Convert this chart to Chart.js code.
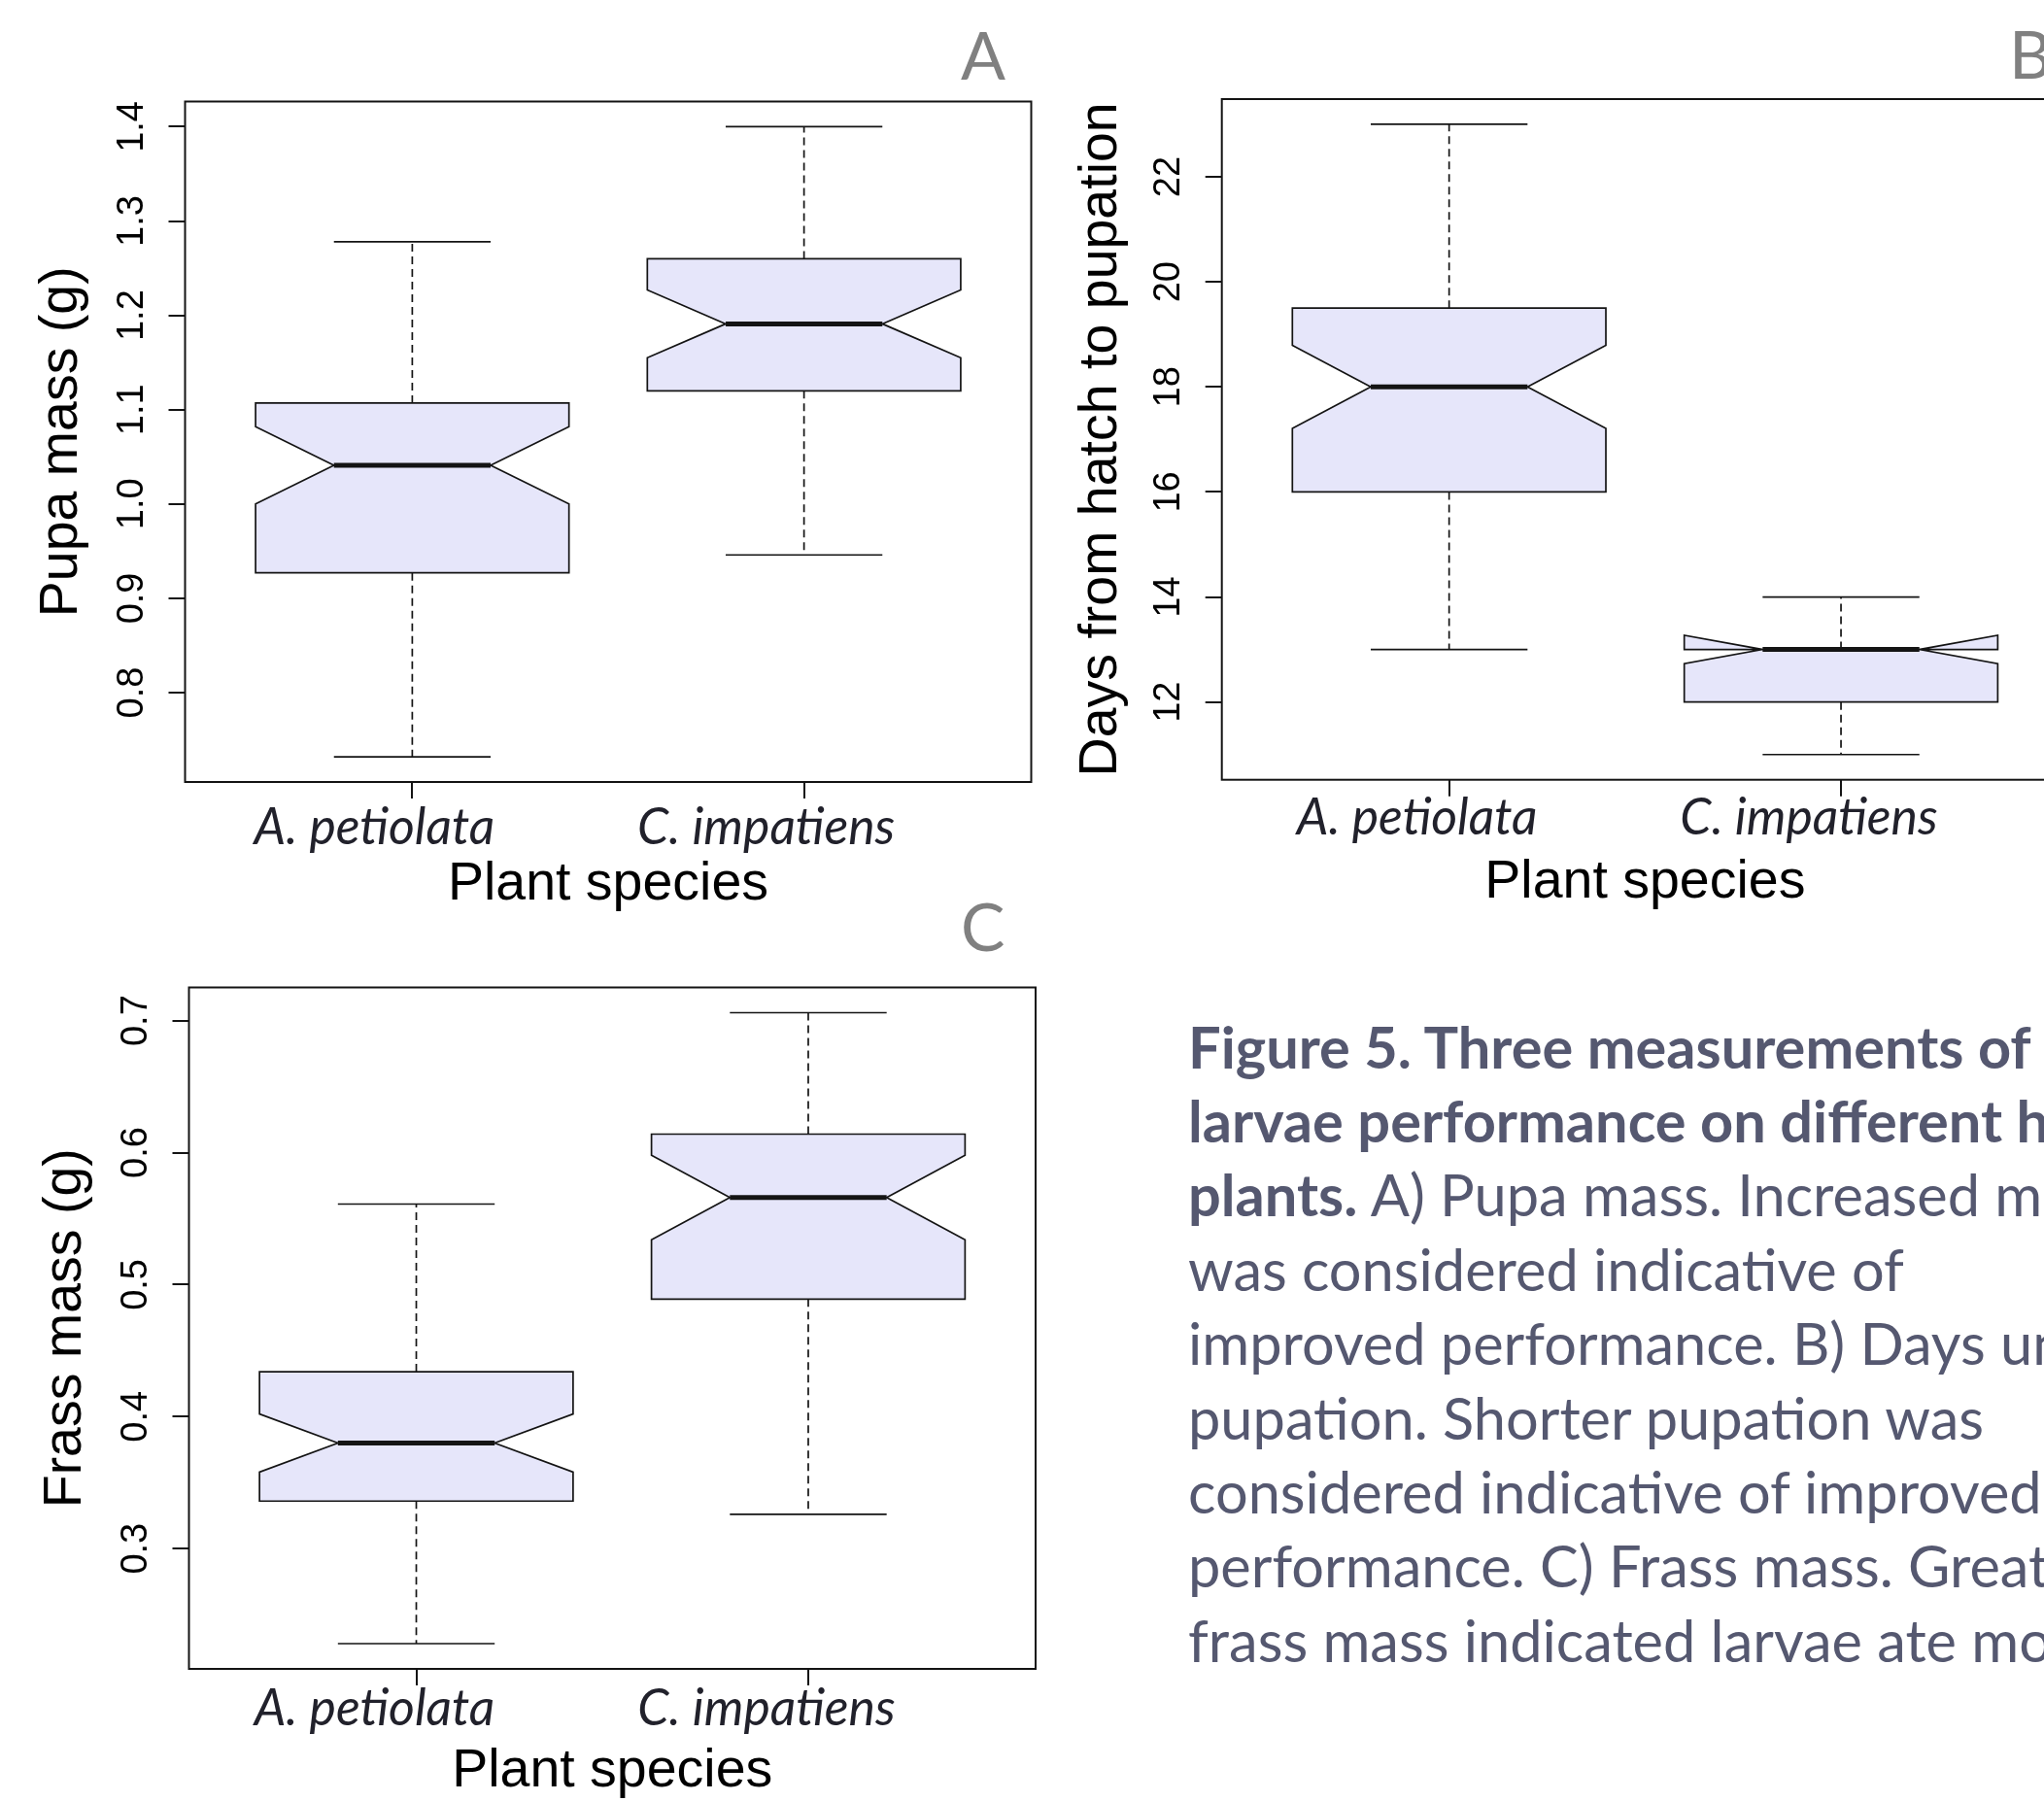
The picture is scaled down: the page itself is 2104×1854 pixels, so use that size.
<!DOCTYPE html>
<html>
<head>
<meta charset="utf-8">
<script src="https://cdn.jsdelivr.net/npm/chart.js@4.4.0/dist/chart.umd.min.js"></script>
<style>
  html, body { margin: 0; padding: 0; background: #fff; }
  body { width: 2104px; height: 1854px; overflow: hidden; position: relative; }
  canvas { position: absolute; }
  .tag { position: absolute; font-family: Lato; color: #808080; white-space: nowrap; }
  .cap { position: absolute; font-family: Lato; color: #555870; white-space: nowrap; }
</style>
</head>
<body>
<canvas id="pupa" width="1101" height="955" style="left:0px;top:0px"></canvas>
<canvas id="days" width="1100" height="953" style="left:1068px;top:0px"></canvas>
<canvas id="frass" width="1100" height="938" style="left:4px;top:930px"></canvas>

<div class="tag" id="tagA">A</div>
<div class="tag" id="tagB">B</div>
<div class="tag" id="tagC">C</div>

<div class="cap"><b>Figure 5. Three measurements of</b></div>
<div class="cap"><b>larvae performance on different host</b></div>
<div class="cap"><b>plants.</b> A) Pupa mass. Increased mass</div>
<div class="cap">was considered indicative of</div>
<div class="cap">improved performance. B) Days until</div>
<div class="cap">pupation. Shorter pupation was</div>
<div class="cap">considered indicative of improved</div>
<div class="cap">performance. C) Frass mass. Greater</div>
<div class="cap">frass mass indicated larvae ate more</div>

<script>
// values
const species = ["A. petiolata", "C. impatiens"];

const pupaLow = [0.732, 0.946];
const pupaQ1 = [0.927, 1.120];
const pupaMedian = [1.041, 1.191];
const pupaQ3 = [1.107, 1.260];
const pupaHigh = [1.278, 1.400];
const pupaNotch = [0.041, 0.036];
const pupaTicks = [0.8, 0.9, 1.0, 1.1, 1.2, 1.3, 1.4];

const daysLow = [13, 11];
const daysQ1 = [16, 12];
const daysMedian = [18, 13];
const daysQ3 = [19.5, 13];
const daysHigh = [23, 14];
const daysNotch = [0.79, 0.27];
const daysTicks = [12, 14, 16, 18, 20, 22];

const frassLow = [0.228, 0.326];
const frassQ1 = [0.336, 0.489];
const frassMedian = [0.380, 0.566];
const frassQ3 = [0.434, 0.614];
const frassHigh = [0.561, 0.706];
const frassNotch = [0.022, 0.032];
const frassTicks = [0.3, 0.4, 0.5, 0.6, 0.7];

const BOX_HALF = 0.4;     // boxwex 0.8
const NOTCH_IN = 0.2;     // notch pinches to half width
const STAPLE_HALF = 0.2;
const LINE = '#141414';

const meas = document.createElement('canvas').getContext('2d');
function textMetrics(font, text) {
  meas.font = font;
  return meas.measureText(text);
}
// size a humanist face so it takes the same room as the Calibri in the figure
function fitSize(fontTpl, text, target) {
  return 100 * target / textMetrics(fontTpl.replace('S', '100px'), text).width;
}

const xTickSize = 100 * (250 + 263) / (
  textMetrics('italic 100px Lato', species[0]).width +
  textMetrics('italic 100px Lato', species[1]).width);
const xm = textMetrics('italic ' + xTickSize + 'px Lato', 'A');
const xMid = (xm.fontBoundingBoxAscent - xm.fontBoundingBoxDescent) / 2;

// notched boxes drawn through the chart scales
const notchedBoxes = {
  id: 'notchedBoxes',
  afterDatasetsDraw(chart) {
    const { ctx, chartArea: a, scales: { x, y } } = chart;
    const px = v => x.getPixelForValue(v);
    const py = v => y.getPixelForValue(v);
    ctx.save();
    ctx.strokeStyle = LINE;
    chart.data.datasets.forEach(ds => {
      const s = ds.stats;
      s.median.forEach((m, i) => {
        const c = i + 1;
        ctx.lineWidth = 1.7;
        ctx.setLineDash([8, 5]);
        ctx.beginPath();
        ctx.moveTo(px(c), py(s.q3[i])); ctx.lineTo(px(c), py(s.high[i]));
        ctx.moveTo(px(c), py(s.q1[i])); ctx.lineTo(px(c), py(s.low[i]));
        ctx.stroke();
        ctx.setLineDash([]);
        ctx.beginPath();
        ctx.moveTo(px(c - STAPLE_HALF), py(s.high[i])); ctx.lineTo(px(c + STAPLE_HALF), py(s.high[i]));
        ctx.moveTo(px(c - STAPLE_HALF), py(s.low[i])); ctx.lineTo(px(c + STAPLE_HALF), py(s.low[i]));
        ctx.stroke();

        const n = s.notch[i];
        const pts = [
          [c - BOX_HALF, s.q1[i]], [c - BOX_HALF, m - n], [c - NOTCH_IN, m], [c - BOX_HALF, m + n], [c - BOX_HALF, s.q3[i]],
          [c + BOX_HALF, s.q3[i]], [c + BOX_HALF, m + n], [c + NOTCH_IN, m], [c + BOX_HALF, m - n], [c + BOX_HALF, s.q1[i]]
        ];
        ctx.beginPath();
        pts.forEach(([vx, vy], k) => k ? ctx.lineTo(px(vx), py(vy)) : ctx.moveTo(px(vx), py(vy)));
        ctx.closePath();
        ctx.fillStyle = ds.boxColor;
        ctx.fill();
        ctx.lineWidth = 1.7;
        ctx.stroke();

        ctx.lineWidth = 5;
        ctx.beginPath();
        ctx.moveTo(px(c - NOTCH_IN), py(m)); ctx.lineTo(px(c + NOTCH_IN), py(m));
        ctx.stroke();
      });
    });
    ctx.lineWidth = 2;
    ctx.strokeRect(a.left, a.top, a.right - a.left, a.bottom - a.top);
    ctx.restore();
  }
};

const axisFont = { family: "'Liberation Sans', Arial", size: 55.5 };

function makePanel(id, geo, stats, yTicks, yTitle, fmt) {
  const lo = Math.min(...stats.low), hi = Math.max(...stats.high);
  const ext = (hi - lo) * 0.04;
  const xPad = geo.labelBase - 17 - xTickSize / 2 - xMid;
  return new Chart(document.getElementById(id), {
    type: 'scatter',
    data: {
      datasets: [{
        data: species.map((s, i) => ({ x: i + 1, y: stats.median[i] })),
        pointRadius: 0,
        stats: stats,
        boxColor: '#e6e6fa'
      }]
    },
    options: {
      responsive: false,
      animation: false,
      events: [],
      layout: { padding: { left: 0, top: geo.padTop, right: geo.padRight, bottom: 0 } },
      plugins: { legend: { display: false }, tooltip: { enabled: false } },
      scales: {
        x: {
          type: 'linear',
          min: 0.5 - 0.08,
          max: species.length + 0.5 + 0.08,
          afterBuildTicks: sc => { sc.ticks = species.map((s, i) => ({ value: i + 1 })); },
          afterFit: sc => { sc.height = geo.xH; },
          grid: { drawOnChartArea: false, tickLength: 17, color: LINE, lineWidth: 2 },
          border: { display: false },
          ticks: {
            callback: (v, i) => species[i],
            font: { family: 'Lato', style: 'italic', size: xTickSize, lineHeight: 1 },
            color: '#21212b',
            padding: xPad,
            labelOffset: geo.labelOffset,
            maxRotation: 0,
            autoSkip: false
          },
          title: { display: true, text: 'Plant species', font: axisFont, color: '#000', padding: { top: 0, bottom: 11 } }
        },
        y: {
          min: lo - ext,
          max: hi + ext,
          afterBuildTicks: sc => { sc.ticks = yTicks.map(v => ({ value: v })); },
          afterFit: sc => { sc.width = geo.yW; },
          grid: { drawOnChartArea: false, tickLength: 17, color: LINE, lineWidth: 2 },
          border: { display: false },
          ticks: {
            callback: v => fmt(v),
            font: { family: "'Liberation Sans', Arial", size: 38 },
            color: '#000',
            padding: geo.yPad,
            minRotation: 90,
            maxRotation: 90,
            crossAlign: 'center',
            autoSkip: false
          },
          title: { display: true, text: yTitle, font: axisFont, color: '#000', padding: { top: geo.yW - 126.5 - 33.3 + geo.titleShift, bottom: 0 } }
        }
      }
    },
    plugins: [notchedBoxes]
  });
}

makePanel('pupa',
  { padTop: 104.5, padRight: 39.5, yW: 190.5, xH: 150, yPad: 10.3, labelBase: 67, labelOffset: -39, titleShift: 0 },
  { low: pupaLow, q1: pupaQ1, median: pupaMedian, q3: pupaQ3, high: pupaHigh, notch: pupaNotch },
  pupaTicks, 'Pupa mass (g)', v => v.toFixed(1));

makePanel('days',
  { padTop: 102, padRight: 39, yW: 189.7, xH: 150.3, yPad: 15.6, labelBase: 59.5, labelOffset: -33, titleShift: 3 },
  { low: daysLow, q1: daysQ1, median: daysMedian, q3: daysQ3, high: daysHigh, notch: daysNotch },
  daysTicks, 'Days from hatch to pupation', v => String(v));

makePanel('frass',
  { padTop: 86.5, padRight: 38, yW: 190.5, xH: 150, yPad: 10.3, labelBase: 61, labelOffset: -43, titleShift: 0 },
  { low: frassLow, q1: frassQ1, median: frassMedian, q3: frassQ3, high: frassHigh, notch: frassNotch },
  frassTicks, 'Frass mass (g)', v => v.toFixed(1));

// panel letters and caption, placed by baseline
function placeByBaseline(el, font, left, baseline) {
  const m = textMetrics(font, 'Hg');
  el.style.font = font;
  el.style.lineHeight = (m.fontBoundingBoxAscent + m.fontBoundingBoxDescent) + 'px';
  el.style.left = left + 'px';
  el.style.top = (baseline - m.fontBoundingBoxAscent) + 'px';
}
placeByBaseline(document.getElementById('tagA'), '68px Lato', 989, 82);
placeByBaseline(document.getElementById('tagB'), '68px Lato', 2068, 81);
placeByBaseline(document.getElementById('tagC'), '68px Lato', 989, 979);

const capSize = fitSize('S Lato', 'was considered indicative of', 737);
document.querySelectorAll('.cap').forEach((el, k) => {
  placeByBaseline(el, capSize + 'px Lato', 1223, 1099.5 + k * 76.4);
});
</script>
</body>
</html>
